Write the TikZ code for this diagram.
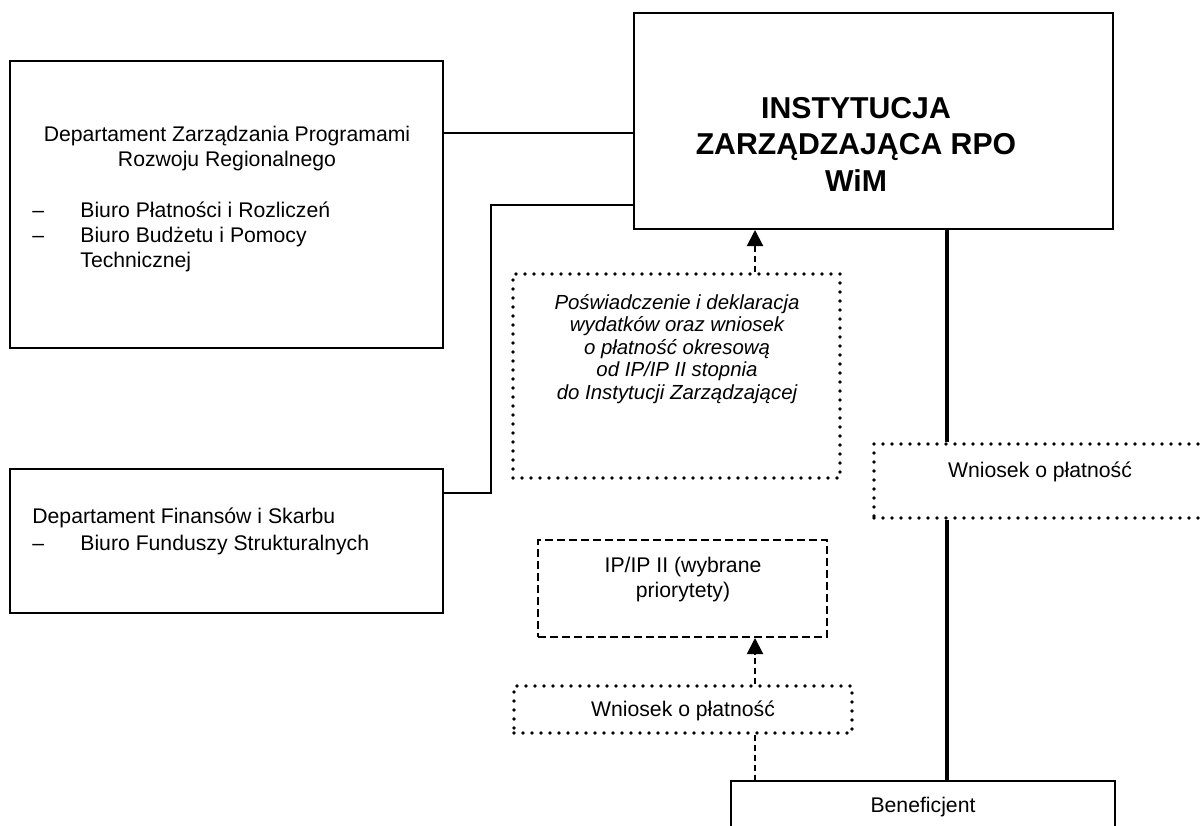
\documentclass[tikz,border=0pt]{standalone}
\usepackage{fontspec}
\setmainfont{Liberation Sans}
\usetikzlibrary{calc,arrows.meta,positioning}

\begin{document}
\begin{tikzpicture}[x=0.5pt, y=-0.5pt]

\tikzset{
solidbox/.style={draw,line width=1pt,inner sep=0pt,fill=white},
dotbox/.style={draw,line width=1.8pt,line cap=round,dash pattern=on 0pt off 4.5pt,inner sep=0pt,fill=white},
dashbox/.style={draw,line width=1pt,dash pattern=on 4pt off 2pt,inner sep=0pt,fill=white},
link/.style={line width=1pt},
trunk/.style={line width=2pt},
flow/.style={->,>={Triangle[length=8pt,width=8pt]},line width=1pt,dash pattern=on 3pt off 2pt},
flowline/.style={line width=1pt,dash pattern=on 3pt off 2pt},
txt/.style={inner sep=0pt,font=\fontsize{10.6}{12.5}\selectfont}
}

\useasboundingbox (0,0) rectangle (1203,825);
\clip (0,0) rectangle (1203,825);

% Boxes
\node[solidbox, minimum width=216.5pt, minimum height=143.5pt] (dzp) at (226.5,204.5) {};
\node[solidbox, minimum width=239.5pt, minimum height=108pt] (iz) at (873.5,121) {};
\node[solidbox, minimum width=216.5pt, minimum height=72pt] (dfs) at (226.5,541) {};
\node[dotbox, minimum width=163.5pt, minimum height=102pt] (posw) at (676.5,376) {};
\node[dotbox, minimum width=166pt, minimum height=37pt] (wn1) at (1040,481) {};
\node[dashbox, minimum width=144.5pt, minimum height=48.5pt] (ip) at (682.5,588.5) {};
\node[dotbox, minimum width=169pt, minimum height=23.5pt] (wn2) at (683,709.5) {};
\node[solidbox, minimum width=192pt, minimum height=24pt] (ben) at (923,805) {};

% Texts (base = last line)
\node[txt, align=center, anchor=base] (dzphead) at (227,166)
  {Departament Zarządzania Programami\\Rozwoju Regionalnego};
\node[txt, align=left, anchor=base west] (dzplist) at (32,267)
  {\makebox[24pt][l]{–}Biuro Płatności i Rozliczeń\\
   \makebox[24pt][l]{–}Biuro Budżetu i Pomocy\\
   \hspace*{24pt}Technicznej};
\node[txt, align=left, anchor=base west] (dfstext) at (32,550)
  {Departament Finansów i Skarbu\\[0.8pt]
   \makebox[24pt][l]{–}Biuro Funduszy Strukturalnych};
\node[inner sep=0pt, align=center, anchor=base, font=\fontsize{15.1}{18.25}\bfseries\selectfont] (iztext) at (856,191)
  {INSTYTUCJA\\ZARZĄDZAJĄCA RPO\\WiM};
\node[inner sep=0pt, align=center, anchor=base, font=\fontsize{10.2}{11.25}\itshape\selectfont] (poswtext) at (677,399)
  {Poświadczenie i deklaracja\\wydatków oraz wniosek\\o płatność okresową\\od IP/IP II stopnia\\do Instytucji Zarządzającej};
\node[txt, anchor=base] (wn1text) at (1040,477) {Wniosek o płatność};
\node[txt, align=center, anchor=base] (iptext) at (683,597) {IP/IP II (wybrane\\priorytety)};
\node[txt, anchor=base] (wn2text) at (683,716) {Wniosek o płatność};
\node[txt, anchor=base] (bentext) at (923,812) {Beneficjent};

% Connectors
\coordinate (lnk1) at (0,133);
\coordinate (lnk2) at (491,493);
\coordinate (lnk3) at (0,205);
\coordinate (arr) at (755,0);
\coordinate (trk) at (947,0);

\draw[link] (lnk1 -| dzp.east) -- (lnk1 -| iz.west);
\draw[link] (lnk2 -| dfs.east) -- (lnk2) |- (lnk3 -| iz.west);
\draw[flow] (arr |- posw.north) -- (arr |- iz.south);
\draw[trunk] (trk |- iz.south) -- (trk |- wn1.north);
\draw[trunk] (trk |- wn1.south) -- (trk |- ben.north);
\draw[flow] (arr |- wn2.north) -- (arr |- ip.south);
\draw[flowline] (arr |- wn2.south) -- (arr |- ben.north);

\end{tikzpicture}
\end{document}
